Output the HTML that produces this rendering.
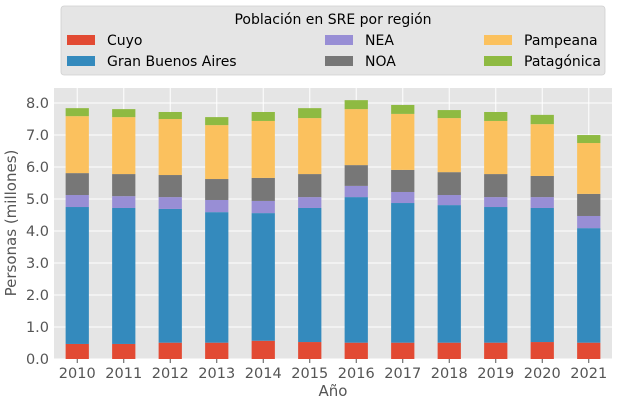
<!DOCTYPE html>
<html><head><meta charset="utf-8"><style>
body{margin:0;background:#fff;}
svg{display:block;font-family:"DejaVu Sans","Liberation Sans",sans-serif;}
</style></head><body>
<svg id="chart" width="619" height="405" viewBox="0 0 619 405">
<rect x="54" y="88" width="558" height="271" fill="#e5e5e5"/>
<g id="grid"></g><g id="bars"></g><g id="axes"></g>
<text x="16" y="223" font-size="15" fill="#555" text-anchor="middle" transform="rotate(-90 16 223)">Personas (millones)</text>
<text x="333" y="396" font-size="15" fill="#555" text-anchor="middle">Año</text>
<g>
<rect x="61" y="6" width="544" height="69" rx="3" fill="#e5e5e5" stroke="#d0d0d0" stroke-width="0.8"/>
<text x="333" y="24" font-size="14" text-anchor="middle" fill="#000">Población en SRE por región</text>
<g id="legend-items"></g>
</g>
</svg>
<script>
const years=["2010","2011","2012","2013","2014","2015","2016","2017","2018","2019","2020","2021"];
const seriesNames=["Cuyo","Gran Buenos Aires","NEA","NOA","Pampeana","Patagónica"];
const colors=["#e24a33","#348abd","#988ed5","#777777","#fbc15e","#8eba42"];
const cuyo=[0.47,0.47,0.51,0.51,0.57,0.53,0.51,0.51,0.51,0.51,0.53,0.51];
const gba=[4.28,4.25,4.18,4.08,3.99,4.19,4.55,4.365,4.30,4.24,4.19,3.58];
const nea=[0.375,0.37,0.37,0.38,0.38,0.34,0.35,0.345,0.315,0.31,0.34,0.38];
const noa=[0.685,0.69,0.69,0.655,0.72,0.72,0.65,0.69,0.715,0.72,0.66,0.69];
const pampeana=[1.78,1.78,1.75,1.685,1.78,1.75,1.75,1.75,1.69,1.66,1.62,1.59];
const patagonica=[0.25,0.25,0.22,0.25,0.28,0.31,0.28,0.28,0.25,0.28,0.29,0.25];
const yTicks=[0,1,2,3,4,5,6,7,8];
const series=[cuyo,gba,nea,noa,pampeana,patagonica];
const NS="http://www.w3.org/2000/svg";
const L=54,R=612,T=88,B=359,yMax=8.47;
const y=v=>B-v*(B-T)/yMax;
const step=(R-L)/years.length;
const xc=i=>L+step*(i+0.5);
const bw=step*0.5;
function mk(tag,attrs,parent){const e=document.createElementNS(NS,tag);for(const k in attrs)e.setAttribute(k,attrs[k]);parent.appendChild(e);return e;}
const grid=document.getElementById('grid'),bars=document.getElementById('bars'),axes=document.getElementById('axes');
yTicks.forEach(t=>{
 const g=mk('line',{x1:L,x2:R,y1:y(t),y2:y(t),stroke:'#fff','stroke-width':1},grid);
 
 
 const tx=mk('text',{x:L-5,y:y(t)+5,'font-size':14.5,fill:'#555','text-anchor':'end'},axes);
 tx.textContent=t.toFixed(1);
 
 
});
years.forEach((yr,i)=>{
 const g=mk('line',{x1:xc(i),x2:xc(i),y1:T,y2:B,stroke:'#fff','stroke-width':1},grid);
 
 
 mk('line',{x1:xc(i),x2:xc(i),y1:B,y2:B+4,stroke:'#555','stroke-width':1},axes);
 const tx=mk('text',{x:xc(i),y:B+19,'font-size':14.5,fill:'#555','text-anchor':'middle'},axes);
 tx.textContent=yr;
 
 
 let base=0;
 series.forEach((s,k)=>{
  const v=s[i];
  const r=mk('rect',{x:xc(i)-bw/2,y:y(base+v),width:bw,height:y(base)-y(base+v),fill:colors[k]},bars);
  
  
  base+=v;
 });
});
const li=document.getElementById('legend-items');
const pos=[[67,40],[67,61],[325,40],[325,61],[484,40],[484,61]];
seriesNames.forEach((n,k)=>{
 const p=pos[k];
 const r=mk('rect',{x:p[0],y:p[1]-5,width:28,height:10,fill:colors[k]},li);
 
 
 const t=mk('text',{x:p[0]+40,y:p[1]+5,'font-size':14,fill:'#000'},li);
 t.textContent=n;
 
 
});
</script>
</body></html>
